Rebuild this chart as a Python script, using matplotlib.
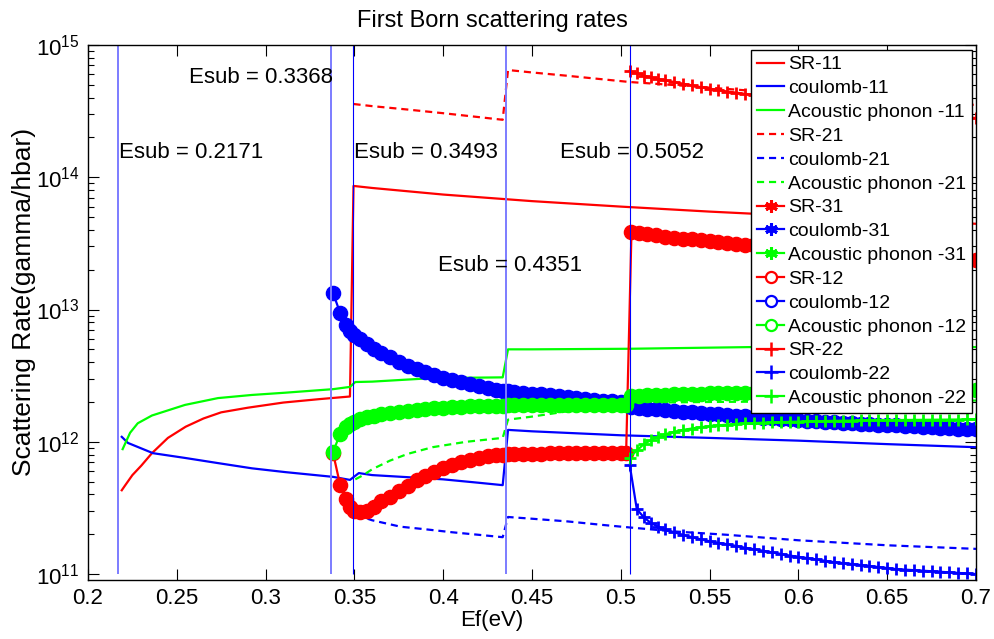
import numpy as np
import matplotlib
matplotlib.use('Agg')
import matplotlib.pyplot as plt
from matplotlib.lines import Line2D

# ---------------- data (values in units of 1e12 1/s) ----------------
SCALE = 1e12

esub = [0.2171, 0.3368, 0.3493, 0.4351, 0.5052]

sr11_x = [0.219, 0.221, 0.225, 0.230, 0.236, 0.245, 0.255, 0.265, 0.275, 0.290, 0.310, 0.330,
          0.3475, 0.3495, 0.360, 0.400, 0.450, 0.500, 0.550, 0.600, 0.650, 0.700]
sr11_y = [0.43, 0.47, 0.56, 0.66, 0.82, 1.07, 1.30, 1.50, 1.67, 1.81, 1.98, 2.10,
          2.20, 86.0, 83.0, 74.0, 66.0, 60.0, 55.0, 51.0, 47.5, 44.5]

cou11_x = [0.219, 0.2225, 0.2366, 0.2546, 0.2732, 0.2923, 0.311, 0.338, 0.3475, 0.3525, 0.360,
           0.380, 0.400, 0.420, 0.4335, 0.4365, 0.450, 0.500, 0.550, 0.600, 0.650, 0.700]
cou11_y = [1.09, 0.98, 0.82, 0.755, 0.69, 0.63, 0.59, 0.543, 0.515, 0.58, 0.56,
           0.54, 0.52, 0.49, 0.47, 1.23, 1.20, 1.12, 1.07, 1.02, 0.96, 0.91]

ac11_x = [0.2195, 0.2237, 0.228, 0.236, 0.2546, 0.2732, 0.2923, 0.311, 0.338, 0.3475, 0.3505,
          0.360, 0.394, 0.4335, 0.4365, 0.450, 0.505, 0.573, 0.650, 0.700]
ac11_y = [0.88, 1.17, 1.38, 1.58, 1.90, 2.14, 2.26, 2.35, 2.50, 2.60, 2.83,
          2.85, 3.03, 3.07, 5.00, 5.00, 5.05, 5.20, 5.20, 5.20]

sr21_x = [0.3495, 0.360, 0.380, 0.400, 0.420, 0.4335, 0.4365, 0.450, 0.470, 0.490, 0.505,
          0.530, 0.560, 0.600, 0.650, 0.700]
sr21_y = [358.0, 345.0, 325.0, 305.0, 285.0, 272.0, 647.0, 620.0, 585.0, 550.0, 525.0,
          498.0, 465.0, 425.0, 385.0, 352.0]

cou21_x = [0.351, 0.360, 0.376, 0.390, 0.405, 0.420, 0.4335, 0.4365, 0.450, 0.470, 0.490, 0.505,
           0.530, 0.560, 0.600, 0.650, 0.700]
cou21_y = [0.28, 0.255, 0.228, 0.218, 0.207, 0.198, 0.19, 0.27, 0.262, 0.25, 0.235, 0.225,
           0.21, 0.198, 0.18, 0.165, 0.155]

ac21_x = [0.3505, 0.355, 0.360, 0.370, 0.380, 0.394, 0.413, 0.4335, 0.4365, 0.450, 0.470, 0.490,
          0.505, 0.550, 0.600, 0.650, 0.700]
ac21_y = [0.52, 0.56, 0.62, 0.72, 0.81, 0.91, 1.00, 1.07, 1.47, 1.55, 1.70, 1.86,
          1.97, 2.00, 2.02, 2.04, 2.05]

# subband-3 series do not show inside the plotted window
sr31_x, sr31_y = [], []
cou31_x, cou31_y = [], []
ac31_x, ac31_y = [], []

x12 = [0.338, 0.342, 0.3455, 0.3475, 0.350, 0.353, 0.357, 0.361, 0.365,
       0.370, 0.375, 0.380, 0.385, 0.390, 0.395, 0.400, 0.405, 0.410, 0.415, 0.420, 0.425, 0.430,
       0.4335, 0.4365,
       0.440, 0.445, 0.450, 0.455, 0.460, 0.465, 0.470, 0.475, 0.480, 0.485, 0.490, 0.495, 0.500, 0.503,
       0.506, 0.510, 0.515, 0.520, 0.525, 0.530, 0.535, 0.540, 0.545, 0.550, 0.555, 0.560, 0.565,
       0.570, 0.575, 0.580, 0.585, 0.590, 0.595, 0.600, 0.605, 0.610, 0.615, 0.620, 0.625, 0.630,
       0.635, 0.640, 0.645, 0.650, 0.655, 0.660, 0.665, 0.670, 0.675, 0.680, 0.685, 0.690, 0.695, 0.700]

sr12_y = [0.82, 0.47, 0.37, 0.32, 0.30, 0.295, 0.30, 0.32, 0.355,
          0.385, 0.425, 0.465, 0.51, 0.55, 0.595, 0.63, 0.67, 0.70, 0.73, 0.755, 0.775, 0.79,
          0.80, 0.805,
          0.81, 0.81, 0.815, 0.815, 0.82, 0.82, 0.82, 0.82, 0.82, 0.82, 0.82, 0.82, 0.82, 0.82,
          38.5, 37.8, 37.0, 36.3, 35.6, 35.0, 34.4, 33.9, 33.4, 32.9, 32.4, 31.9, 31.4,
          30.9, 30.5, 30.0, 29.6, 29.2, 28.8, 28.4, 28.0, 27.7, 27.3, 27.0, 26.7, 26.4,
          26.1, 25.8, 25.5, 25.3, 25.0, 24.8, 24.6, 24.4, 24.2, 24.0, 23.9, 23.8, 23.7, 23.6]

cou12_y = [13.3, 9.4, 7.6, 6.9, 6.4, 5.95, 5.5, 5.05, 4.7,
           4.35, 4.0, 3.75, 3.55, 3.37, 3.2, 3.06, 2.94, 2.84, 2.74, 2.65, 2.56, 2.48,
           2.43, 2.40,
           2.37, 2.34, 2.31, 2.28, 2.24, 2.20, 2.17, 2.14, 2.11, 2.08, 2.05, 2.02, 1.99, 1.97,
           1.82, 1.80, 1.78, 1.76, 1.74, 1.71, 1.69, 1.67, 1.65, 1.63, 1.61, 1.59, 1.57,
           1.555, 1.54, 1.52, 1.505, 1.49, 1.475, 1.46, 1.445, 1.43, 1.415, 1.40, 1.39, 1.38,
           1.37, 1.36, 1.35, 1.34, 1.33, 1.32, 1.31, 1.30, 1.29, 1.28, 1.27, 1.26, 1.25, 1.24]

ac12_y = [0.84, 1.15, 1.30, 1.36, 1.42, 1.48, 1.54, 1.58, 1.62,
          1.66, 1.69, 1.72, 1.75, 1.77, 1.79, 1.81, 1.83, 1.84, 1.85, 1.86, 1.87, 1.88,
          1.88, 1.89,
          1.89, 1.89, 1.90, 1.90, 1.90, 1.90, 1.90, 1.90, 1.90, 1.90, 1.90, 1.90, 1.90, 1.90,
          2.20, 2.22, 2.24, 2.26, 2.27, 2.28, 2.29, 2.30, 2.31, 2.32, 2.33, 2.34, 2.345,
          2.35, 2.355, 2.36, 2.365, 2.37, 2.375, 2.38, 2.385, 2.39, 2.395, 2.40, 2.405, 2.41,
          2.415, 2.42, 2.425, 2.43, 2.435, 2.44, 2.44, 2.445, 2.45, 2.45, 2.455, 2.46, 2.46, 2.46]

x22 = [0.505, 0.509, 0.513, 0.517, 0.521, 0.525,
       0.530, 0.535, 0.540, 0.545, 0.550, 0.555, 0.560, 0.565, 0.570, 0.575, 0.580, 0.585,
       0.590, 0.595, 0.600, 0.605, 0.610, 0.615, 0.620, 0.625, 0.630, 0.635, 0.640, 0.645,
       0.650, 0.655, 0.660, 0.665, 0.670, 0.675, 0.680, 0.685, 0.690, 0.695, 0.700]

sr22_y = [636.0, 610.0, 588.0, 568.0, 552.0, 540.0,
          525.0, 510.0, 495.0, 480.0, 468.0, 456.0, 445.0, 436.0, 427.0, 418.0, 409.0, 400.0,
          391.0, 383.0, 375.0, 367.0, 360.0, 353.0, 346.0, 340.0, 334.0, 328.0, 322.0, 316.0,
          311.0, 306.0, 301.0, 297.0, 293.0, 290.0, 287.0, 285.0, 283.0, 282.0, 281.0]

cou22_y = [0.67, 0.31, 0.268, 0.243, 0.228, 0.218,
           0.207, 0.198, 0.19, 0.183, 0.177, 0.172, 0.168, 0.163, 0.158, 0.154, 0.15, 0.146,
           0.142, 0.138, 0.135, 0.132, 0.129, 0.126, 0.123, 0.121, 0.119, 0.117, 0.115, 0.113,
           0.111, 0.109, 0.108, 0.107, 0.106, 0.105, 0.104, 0.103, 0.102, 0.101, 0.100]

ac22_y = [0.76, 0.86, 0.96, 1.03, 1.09, 1.14,
          1.19, 1.23, 1.26, 1.29, 1.31, 1.33, 1.35, 1.365, 1.375, 1.385, 1.395, 1.40,
          1.41, 1.415, 1.42, 1.425, 1.43, 1.435, 1.44, 1.443, 1.446, 1.449, 1.452, 1.455,
          1.458, 1.46, 1.462, 1.464, 1.466, 1.468, 1.47, 1.472, 1.474, 1.476, 1.478]

labels = ['SR-11', 'coulomb-11', 'Acoustic phonon -11',
          'SR-21', 'coulomb-21', 'Acoustic phonon -21',
          'SR-31', 'coulomb-31', 'Acoustic phonon -31',
          'SR-12', 'coulomb-12', 'Acoustic phonon -12',
          'SR-22', 'coulomb-22', 'Acoustic phonon -22']

xticks = [0.2, 0.25, 0.3, 0.35, 0.4, 0.45, 0.5, 0.55, 0.6, 0.65, 0.7]
xticklabels = ['0.2', '0.25', '0.3', '0.35', '0.4', '0.45', '0.5', '0.55', '0.6', '0.65', '0.7']

# ---------------- styling ----------------
plt.rcParams['font.family'] = ['Liberation Sans', 'DejaVu Sans']
plt.rcParams['mathtext.fontset'] = 'custom'
plt.rcParams['mathtext.rm'] = 'Liberation Sans'
plt.rcParams['mathtext.it'] = 'Liberation Sans:italic'

R, B, G = '#ff0000', '#0000ff', '#00ff00'
LW = 1.6
DASH = (0, (3.2, 2.2))
ASTER = (6, 2, 0)

fig = plt.figure(figsize=(9.95, 6.39), dpi=100)
ax = fig.add_axes([88 / 995, 1 - 580 / 639, (976 - 88) / 995, (580 - 45) / 639])


def s(v):
    return np.asarray(v, dtype=float) * SCALE


# solid lines (subband 1 -> 1)
ax.plot(sr11_x, s(sr11_y), color=R, lw=LW)
ax.plot(cou11_x, s(cou11_y), color=B, lw=LW)
ax.plot(ac11_x, s(ac11_y), color=G, lw=LW)
# dashed lines (2 -> 1)
ax.plot(sr21_x, s(sr21_y), color=R, lw=LW, ls=DASH)
ax.plot(cou21_x, s(cou21_y), color=B, lw=LW, ls=DASH)
ax.plot(ac21_x, s(ac21_y), color=G, lw=LW, ls=DASH)
# 3 -> 1
ax.plot(sr31_x, sr31_y, color=R, lw=LW, marker=ASTER)
ax.plot(cou31_x, cou31_y, color=B, lw=LW, marker=ASTER)
ax.plot(ac31_x, ac31_y, color=G, lw=LW, marker=ASTER)
# circles (1 -> 2)
MS_O = 10.2
ax.plot(x12, s(sr12_y), color=R, lw=LW, marker='o', ms=MS_O, mfc=R, mec=R)
ax.plot(x12, s(cou12_y), color=B, lw=LW, marker='o', ms=MS_O, mfc=B, mec=B)
ax.plot(x12, s(ac12_y), color=G, lw=LW, marker='o', ms=MS_O, mfc=G, mec=G)
# plus (2 -> 2)
MS_P = 8.5
ax.plot(x22, s(sr22_y), color=R, lw=LW, marker='+', ms=MS_P, mew=2.0)
ax.plot(x22, s(cou22_y), color=B, lw=LW, marker='+', ms=MS_P, mew=2.0)
ax.plot(x22, s(ac22_y), color=G, lw=LW, marker='+', ms=MS_P, mew=2.0)

# subband edges (some render lighter/wider in the original, as anti-aliased 1px lines)
edge_col = ['#7c7cff', '#7c7cff', B, '#7c7cff', B]
edge_lw = [1.4, 1.4, 0.8, 1.4, 0.8]
for v, c, w in zip(esub, edge_col, edge_lw):
    ax.vlines(v, 1e11, 1e15, colors=c, lw=w)
txt_pos = [(0.2176, 1.53e14), (0.2569, 5.7e14), (0.3498, 1.53e14), (0.397, 2.17e13), (0.4658, 1.53e14)]
for v, (tx, ty) in zip(esub, txt_pos):
    ax.text(tx, ty, f'Esub = {v:.4f}', fontsize=16, ha='left', va='center')

ax.set_xlim(0.2, 0.7)
ax.set_yscale('log')
ax.set_ylim(10 ** 10.955, 1e15)
ax.set_xticks(xticks)
ax.set_xticklabels(xticklabels)
ax.tick_params(which='both', direction='in', top=True, right=True, labelsize=16)
ax.tick_params(which='major', length=8, width=0.8)
ax.tick_params(which='minor', length=4, width=0.8)
ax.tick_params(axis='x', pad=6)
ax.tick_params(axis='y', pad=6)
for sp in ax.spines.values():
    sp.set_linewidth(1.0)

ax.set_title('First Born scattering rates', fontsize=17, pad=13, x=0.455)
ax.set_xlabel('Ef(eV)', fontsize=16, labelpad=1)
ax.xaxis.set_label_coords(0.455, -0.057)
ax.set_ylabel('Scattering Rate(gamma/hbar)', fontsize=19, labelpad=3)
ax.yaxis.set_label_coords(-0.059, 0.52)

# legend
styles = [dict(color=R), dict(color=B), dict(color=G),
          dict(color=R, ls=DASH), dict(color=B, ls=DASH), dict(color=G, ls=DASH),
          dict(color=R, marker=ASTER, ms=9, mew=2.2), dict(color=B, marker=ASTER, ms=9, mew=2.2),
          dict(color=G, marker=ASTER, ms=9, mew=2.2),
          dict(color=R, marker='o', ms=8, mfc='white', mew=1.6), dict(color=B, marker='o', ms=8, mfc='white', mew=1.6),
          dict(color=G, marker='o', ms=8, mfc='white', mew=1.6),
          dict(color=R, marker='+', ms=10, mew=1.8), dict(color=B, marker='+', ms=10, mew=1.8),
          dict(color=G, marker='+', ms=10, mew=1.8)]
handles = [Line2D([], [], lw=LW, **st) for st in styles]
leg = ax.legend(handles, labels, loc='upper right', bbox_to_anchor=(1 - 4 / 888, 1 - 5 / 535),
                borderaxespad=0, fontsize=14, labelspacing=0.32, handlelength=1.4,
                handletextpad=0.2, borderpad=0.3, fancybox=False, framealpha=1,
                edgecolor='black')
leg.get_frame().set_linewidth(1.0)

fig.savefig('out.png', dpi=100)
